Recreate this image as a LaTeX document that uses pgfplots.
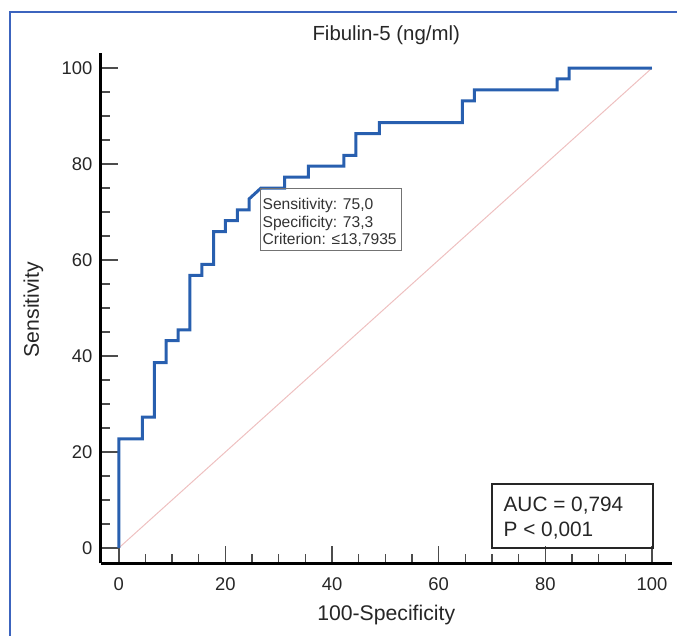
\documentclass[border=0pt]{standalone}
\usepackage{pgfplots}
\pgfplotsset{compat=1.18}
\usepackage{fontspec}
\setmainfont{Liberation Sans}

\definecolor{rocblue}{RGB}{40,95,175}
\definecolor{frameblue}{RGB}{60,100,190}
\definecolor{diagpink}{RGB}{238,192,192}

\begin{document}
\begin{tikzpicture}
% page = 677 x 636 px, 1 px = 0.5pt
\useasboundingbox (0,0) rectangle (338.5pt,318pt);
\draw[frameblue, line width=0.8pt] (5pt,0) -- (5pt,312pt) -- (338.5pt,312pt);

\begin{axis}[
  at={(50.35pt,36.35pt)}, anchor=south west,
  scale only axis, width=285.5pt, height=255.3pt,
  xmin=-3.4, xmax=103.7, ymin=-3.2, ymax=103.2,
  axis lines=left,
  axis line style={-, black, line width=1.4pt},
  xtick={0,20,...,100}, ytick={0,20,...,100},
  minor tick num=3,
  tick align=inside,
  major tick length=8.5pt, minor tick length=4.5pt,
  every tick/.style={black!70, line width=0.7pt},
  /pgf/number format/assume math mode=true,
  ticklabel style={font=\fontsize{9.2}{11}\selectfont, text=black!85},
  xticklabel style={yshift=-3.7pt},
  yticklabel style={xshift=-0.6pt},
  title={Fibulin-5 (ng/ml)},
  title style={at={(axis description cs:0.5,1.035)}, anchor=center, yshift=-6pt, font=\fontsize{10.2}{12}\selectfont, text=black!85},
  xlabel={100-Specificity},
  xlabel style={at={(axis description cs:0.5,-0.102)}, anchor=center, font=\fontsize{10.6}{12}\selectfont, text=black!85},
  ylabel={Sensitivity},
  ylabel style={at={(axis description cs:-0.118,0.497)}, anchor=center, rotate=0, font=\fontsize{10.6}{12}\selectfont, text=black!85},
]
\addplot[diagpink, line width=0.5pt] coordinates {(0,0) (100,100)};

\addplot[rocblue, line width=1.5pt, line join=miter] coordinates {
(0,0) (0,22.73) (4.44,22.73) (4.44,27.27) (6.67,27.27) (6.67,38.64)
(8.89,38.64) (8.89,43.18) (11.11,43.18) (11.11,45.45) (13.33,45.45)
(13.33,56.82) (15.56,56.82) (15.56,59.09) (17.78,59.09) (17.78,65.91)
(20.00,65.91) (20.00,68.18) (22.22,68.18) (22.22,70.45) (24.44,70.45)
(24.44,72.73) (26.67,75.00) (31.11,75.00) (31.11,77.27) (35.56,77.27)
(35.56,79.55) (42.22,79.55) (42.22,81.82) (44.44,81.82) (44.44,86.36)
(48.89,86.36) (48.89,88.64) (64.44,88.64) (64.44,93.18) (66.67,93.18)
(66.67,95.45) (82.22,95.45) (82.22,97.73) (84.44,97.73) (84.44,100)
(100,100)
};

\draw[black!55, line width=0.5pt] (axis cs:26.6,61.9) rectangle (axis cs:53.1,74.8);
\node[anchor=north west, align=left, inner sep=0pt, text=black!80,
      font=\fontsize{7.8}{8.8}\selectfont] at (axis cs:26.9,72.9)
  {Sensitivity: 75,0\\Specificity: 73,3\\Criterion: ≤13,7935};

\draw[black!85, line width=0.7pt] (axis cs:70,0) rectangle (axis cs:100.2,13.3);
\node[anchor=north west, align=left, inner sep=0pt, text=black!85,
      font=\fontsize{10.4}{12.5}\selectfont] at (axis cs:72.1,10.6)
  {AUC = 0,794\\P < 0,001};
\end{axis}
\end{tikzpicture}
\end{document}
